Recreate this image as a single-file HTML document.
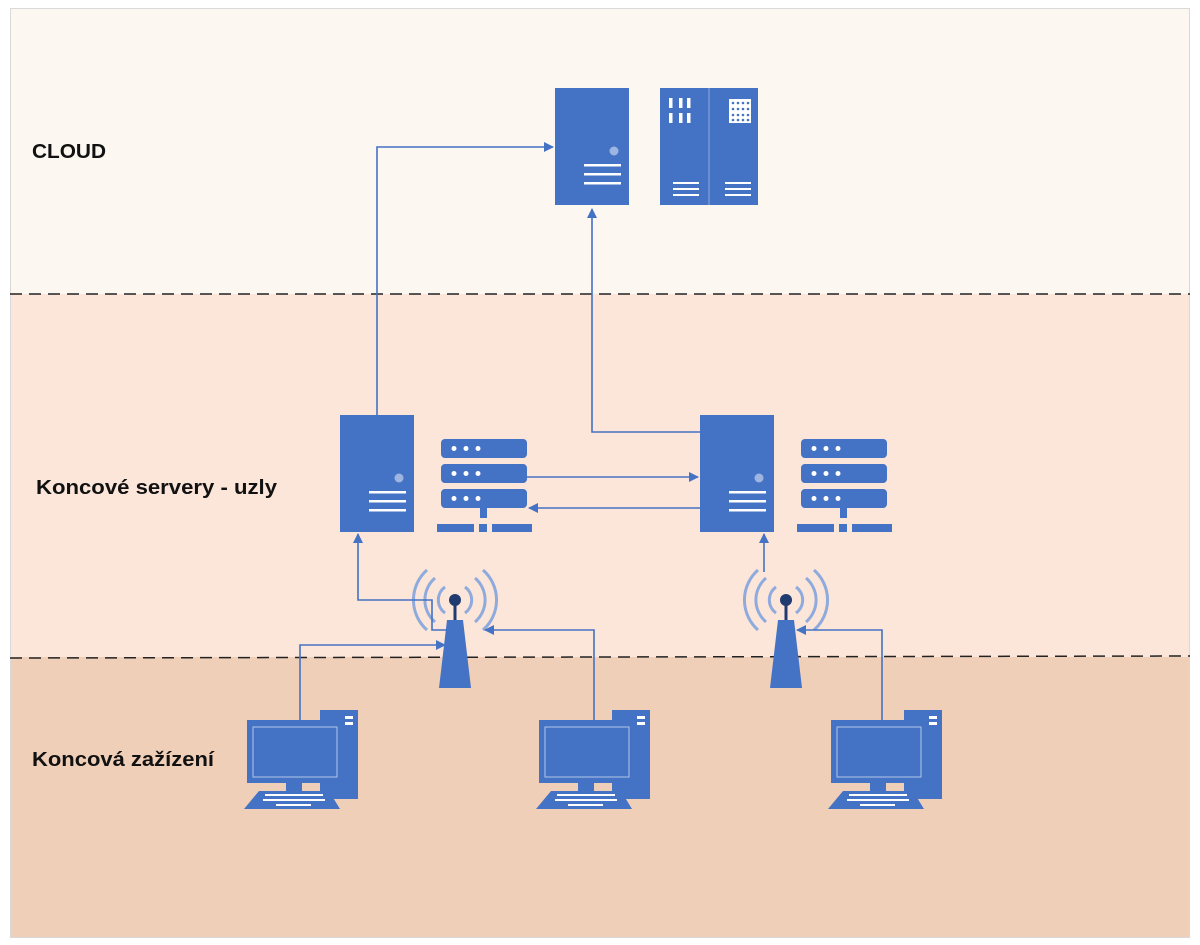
<!DOCTYPE html>
<html><head><style>
html,body{margin:0;padding:0;background:#fff;}
svg{display:block;}
text{font-family:"Liberation Sans",Calibri,sans-serif;font-weight:bold;font-size:20px;fill:#111;}
</style></head><body>
<svg width="1200" height="945" viewBox="0 0 1200 945" xmlns="http://www.w3.org/2000/svg">
<defs>
<marker id="a" markerWidth="10" markerHeight="10" refX="9" refY="5" orient="auto" markerUnits="userSpaceOnUse"><path d="M0,0 L10,5 L0,10 z" fill="#4472C4"/></marker>
<g id="srv"><rect x="0" y="0" width="74" height="117" fill="#4472C4"/><circle cx="59" cy="63" r="4.5" fill="#9DB5E0"/><rect x="29" y="76" width="37" height="2.5" fill="#fff"/><rect x="29" y="85" width="37" height="2.5" fill="#fff"/><rect x="29" y="94" width="37" height="2.5" fill="#fff"/></g>
<g id="rack" fill="#4472C4"><rect x="0" y="0" width="86" height="19" rx="4"/><rect x="0" y="25" width="86" height="19" rx="4"/><rect x="0" y="50" width="86" height="19" rx="4"/><rect x="39" y="69" width="7" height="10"/><rect x="-4" y="85" width="37" height="8"/><rect x="38" y="85" width="8" height="8"/><rect x="51" y="85" width="40" height="8"/>
<g fill="#fff"><circle cx="13" cy="9.5" r="2.5"/><circle cx="25" cy="9.5" r="2.5"/><circle cx="37" cy="9.5" r="2.5"/><circle cx="13" cy="34.5" r="2.5"/><circle cx="25" cy="34.5" r="2.5"/><circle cx="37" cy="34.5" r="2.5"/><circle cx="13" cy="59.5" r="2.5"/><circle cx="25" cy="59.5" r="2.5"/><circle cx="37" cy="59.5" r="2.5"/></g></g>
<g id="tow"><g fill="none" stroke="#8FAADC" stroke-width="3"><path d="M-10,-13 A16,16 0 0 0 -10,13"/><path d="M10,-13 A16,16 0 0 1 10,13"/><path d="M-20,-22 A29,29 0 0 0 -20,22"/><path d="M20,-22 A29,29 0 0 1 20,22"/><path d="M-28,-30 A40,40 0 0 0 -28,30"/><path d="M28,-30 A40,40 0 0 1 28,30"/></g><rect x="-1.5" y="0" width="3" height="22" fill="#1F3B70"/><circle cx="0" cy="0" r="6" fill="#1F3B70"/><path d="M-8,20 L8,20 L16,88 L-16,88 z" fill="#4472C4"/></g>
<g id="pc"><rect x="76" y="0" width="38" height="89" fill="#4472C4"/><rect x="101" y="6" width="8" height="3" fill="#fff"/><rect x="101" y="12" width="8" height="3" fill="#fff"/><rect x="3" y="10" width="96" height="63" fill="#4472C4"/><rect x="9" y="17" width="84" height="50" fill="none" stroke="#B4C7E7" stroke-width="1"/><rect x="42" y="73" width="16" height="8" fill="#4472C4"/><path d="M15,81 L85,81 L96,99 L0,99 z" fill="#4472C4"/><g fill="#fff"><rect x="21" y="84" width="58" height="2"/><rect x="19" y="89" width="62" height="2"/><rect x="32" y="94" width="35" height="2"/></g></g>
</defs>
<rect x="10" y="8" width="1180" height="286" fill="#FDF7F2"/>
<rect x="10" y="294" width="1180" height="363" fill="#FCE6DA"/>
<rect x="10" y="657" width="1180" height="280" fill="#F0CFB8"/>
<rect x="10.5" y="8.5" width="1179" height="929" fill="none" stroke="#D9D9D9"/>
<line x1="10" y1="294" x2="1190" y2="294" stroke="#222" stroke-width="1.5" stroke-dasharray="12,7"/>
<line x1="10" y1="658" x2="1190" y2="656" stroke="#222" stroke-width="1.5" stroke-dasharray="12,7"/>
<text x="32" y="158" textLength="74" lengthAdjust="spacingAndGlyphs">CLOUD</text>
<text x="36" y="494" textLength="241" lengthAdjust="spacingAndGlyphs">Koncové servery - uzly</text>
<text x="32" y="766" textLength="182" lengthAdjust="spacingAndGlyphs">Koncová zažízení</text>
<use href="#srv" x="555" y="88"/>
<rect x="660" y="88" width="98" height="117" fill="#4472C4"/><line x1="709" y1="88" x2="709" y2="205" stroke="#8FAADC" stroke-width="1"/>
<g fill="#fff"><rect x="669" y="98" width="3.5" height="10"/><rect x="679" y="98" width="3.5" height="10"/><rect x="687" y="98" width="3.5" height="10"/><rect x="669" y="113" width="3.5" height="10"/><rect x="679" y="113" width="3.5" height="10"/><rect x="687" y="113" width="3.5" height="10"/><rect x="729" y="99" width="22" height="24"/><rect x="673" y="182" width="26" height="2"/><rect x="673" y="188" width="26" height="2"/><rect x="673" y="194" width="26" height="2"/><rect x="725" y="182" width="26" height="2"/><rect x="725" y="188" width="26" height="2"/><rect x="725" y="194" width="26" height="2"/></g>
<g fill="#4472C4"><circle cx="733" cy="103" r="1.3"/><circle cx="738" cy="103" r="1.3"/><circle cx="743" cy="103" r="1.3"/><circle cx="748" cy="103" r="1.3"/><circle cx="733" cy="109" r="1.3"/><circle cx="738" cy="109" r="1.3"/><circle cx="743" cy="109" r="1.3"/><circle cx="748" cy="109" r="1.3"/><circle cx="733" cy="115" r="1.3"/><circle cx="738" cy="115" r="1.3"/><circle cx="743" cy="115" r="1.3"/><circle cx="748" cy="115" r="1.3"/><circle cx="733" cy="120" r="1.3"/><circle cx="738" cy="120" r="1.3"/><circle cx="743" cy="120" r="1.3"/><circle cx="748" cy="120" r="1.3"/></g>
<use href="#srv" x="340" y="415"/>
<use href="#srv" x="700" y="415"/>
<use href="#rack" x="441" y="439"/>
<use href="#rack" x="801" y="439"/>
<use href="#tow" x="455" y="600"/>
<use href="#tow" x="786" y="600"/>
<use href="#pc" x="244" y="710"/>
<use href="#pc" x="536" y="710"/>
<use href="#pc" x="828" y="710"/>
<g fill="none" stroke="#4472C4" stroke-width="1.6">
<path d="M377,415 L377,147 L553,147" marker-end="url(#a)"/>
<path d="M700,432 L592,432 L592,209" marker-end="url(#a)"/>
<path d="M527,477 L698,477" marker-end="url(#a)"/>
<path d="M700,508 L529,508" marker-end="url(#a)"/>
<path d="M450,630 L432,630 L432,600 L358,600 L358,534" marker-end="url(#a)"/>
<path d="M300,722 L300,645 L445,645" marker-end="url(#a)"/>
<path d="M594,722 L594,630 L485,630" marker-end="url(#a)"/>
<path d="M764,572 L764,534" marker-end="url(#a)"/>
<path d="M882,722 L882,630 L797,630" marker-end="url(#a)"/>
</g>
</svg>
</body></html>
